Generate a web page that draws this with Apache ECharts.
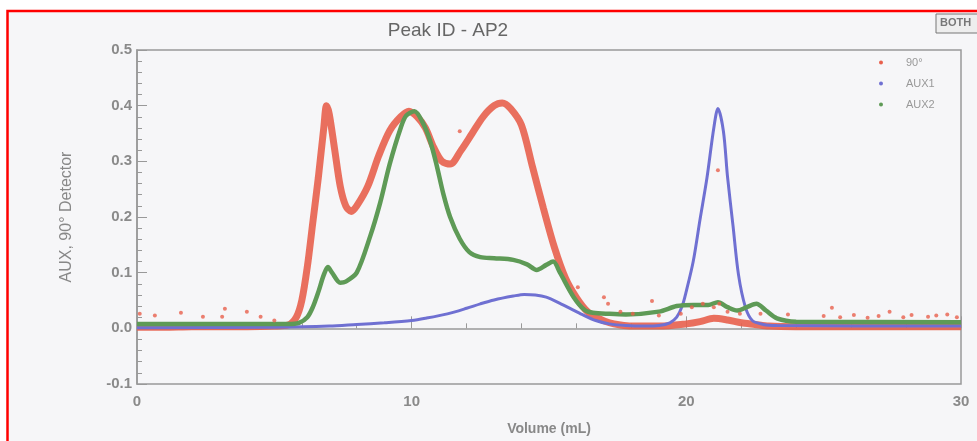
<!DOCTYPE html>
<html><head><meta charset="utf-8">
<script src="https://cdn.jsdelivr.net/npm/echarts@6/dist/echarts.min.js"></script>
<style>html,body{margin:0;padding:0;background:#fff}#c{width:977px;height:441px}</style>
</head><body><div id="c"></div>
<script>
// Volume (mL) and detector values
const redX = [0,1,2,3,4,5,5.5,5.8,6.0,6.2,6.4,6.6,6.8,6.9,7.0,7.2,7.4,7.6,7.8,8.0,8.4,8.8,9.2,9.6,9.9,10.2,10.5,10.8,11.1,11.4,11.8,12.2,12.6,13.0,13.3,13.6,14.0,14.4,14.8,15.2,15.6,16.0,16.4,16.8,17.2,17.6,18,19,20,20.5,21,21.5,22,22.5,23,24,25,26,27,28,29,30];
const redY = [0.002,0.002,0.003,0.003,0.003,0.004,0.006,0.02,0.05,0.11,0.19,0.27,0.36,0.40,0.385,0.32,0.255,0.22,0.21,0.22,0.255,0.31,0.355,0.38,0.39,0.38,0.36,0.325,0.30,0.295,0.32,0.35,0.38,0.40,0.405,0.395,0.365,0.29,0.215,0.145,0.09,0.055,0.03,0.018,0.01,0.006,0.004,0.004,0.008,0.012,0.018,0.015,0.01,0.007,0.004,0.003,0.003,0.003,0.003,0.003,0.003,0.003];
const redOutX = [0.1,0.65,1.6,2.4,3.2,3.1,4.0,4.5,5.0,16.05,17.0,17.15,17.6,18.05,18.75,19.0,19.8,20.2,20.6,21.0,21.2,21.5,21.95,22.7,21.15,23.7,25.0,25.3,25.6,26.1,26.6,27.0,27.4,27.9,28.2,28.8,29.1,29.5,29.85,11.75];
const redOutY = [0.026,0.023,0.028,0.021,0.035,0.021,0.03,0.021,0.014,0.074,0.056,0.044,0.03,0.026,0.049,0.023,0.026,0.038,0.044,0.038,0.044,0.03,0.026,0.026,0.284,0.025,0.022,0.037,0.02,0.024,0.019,0.022,0.03,0.02,0.024,0.021,0.023,0.025,0.02,0.354];

const blueX = [0,5,7,8,9,10,10.5,11.3,12,12.5,13,13.7,14.1,14.5,14.9,15.4,15.8,16.2,16.7,17.2,17.8,18.5,19.0,19.4,19.65,19.85,20.0,20.25,20.5,20.75,21.0,21.15,21.35,21.5,21.7,21.9,22.15,22.4,22.8,23.3,30];
const blueY = [0.001,0.002,0.004,0.007,0.01,0.014,0.018,0.026,0.036,0.044,0.051,0.058,0.061,0.06,0.056,0.045,0.035,0.025,0.014,0.008,0.005,0.004,0.005,0.01,0.02,0.04,0.067,0.12,0.196,0.27,0.36,0.395,0.354,0.272,0.184,0.096,0.038,0.014,0.007,0.005,0.004];

const greenX = [0,5,5.5,5.9,6.2,6.4,6.6,6.8,6.95,7.1,7.4,7.6,8.0,8.5,8.85,9.2,9.6,9.8,10.1,10.4,10.67,10.9,11.15,11.4,11.75,12.1,12.5,13.0,13.7,14.2,14.55,14.9,15.15,15.4,15.9,16.3,16.6,17.2,17.8,19.0,19.65,20.25,20.8,21.15,21.5,21.85,22.2,22.55,22.9,23.3,24,30];
const greenY = [0.008,0.008,0.008,0.01,0.02,0.038,0.065,0.096,0.11,0.1,0.082,0.084,0.10,0.167,0.225,0.295,0.36,0.382,0.39,0.37,0.337,0.295,0.242,0.20,0.161,0.137,0.128,0.126,0.123,0.115,0.105,0.114,0.12,0.10,0.056,0.033,0.028,0.026,0.025,0.03,0.04,0.042,0.042,0.047,0.038,0.032,0.038,0.044,0.032,0.018,0.012,0.011];

const xTicks = [0,10,20,30];
const yTicks = [-0.1,0,0.1,0.2,0.3,0.4,0.5];
const seriesNames = ['90°','AUX1','AUX2'];

const zip = (a,b) => a.map((v,i)=>[v,b[i]]);
const RED='#e8604c', BLUE='#6f70d2', GREEN='#5e9a56';
const axisGray='#8a8a8a';
const chart = echarts.init(document.getElementById('c'));
chart.setOption({
  backgroundColor:'#f6f6f8',
  animation:false,
  title:{text:'Peak ID - AP2',left:443,top:16,textAlign:'center',
    textStyle:{fontFamily:'Liberation Sans',fontSize:19,fontWeight:'normal',color:'#666'}},
  legend:{orient:'vertical',left:874,top:52,itemWidth:4,itemHeight:4,itemGap:10,icon:'circle',
    data:seriesNames,
    textStyle:{fontFamily:'Liberation Sans',fontSize:11,color:'#999',padding:[0,0,0,18]}},
  grid:{left:137,top:50,right:16,bottom:49,show:true,borderColor:'#999',borderWidth:1.5,backgroundColor:'transparent'},
  xAxis:{type:'value',min:xTicks[0],max:xTicks[xTicks.length-1],interval:10,
    name:'Volume (mL)',nameLocation:'middle',nameGap:38,
    nameTextStyle:{fontFamily:'Liberation Sans',fontSize:14,fontWeight:'bold',color:'#888'},
    axisLine:{lineStyle:{color:'#999',width:1.5}},
    axisTick:{inside:true,length:12,lineStyle:{color:'#999'}},
    minorTick:{show:true,splitNumber:5,length:5,lineStyle:{color:'#999'}},
    splitLine:{show:false},
    axisLabel:{margin:10,fontFamily:'Liberation Sans',fontSize:15,fontWeight:'bold',color:axisGray}},
  yAxis:{type:'value',min:yTicks[0],max:yTicks[yTicks.length-1],interval:0.1,
    name:'AUX, 90° Detector',nameLocation:'middle',nameGap:62,
    nameTextStyle:{fontFamily:'Liberation Sans',fontSize:16,color:'#888'},
    axisLine:{show:true,lineStyle:{color:'#999',width:1.5}},
    axisTick:{show:true,inside:true,length:10,lineStyle:{color:'#999'}},
    minorTick:{show:true,splitNumber:5,length:5,lineStyle:{color:'#999'}},
    splitLine:{show:false},
    axisLabel:{margin:5,fontFamily:'Liberation Sans',fontSize:15,fontWeight:'bold',color:axisGray,
      formatter:v=>v.toFixed(1)}},
  series:[
    {name:'90°',type:'line',data:zip(redX,redY),showSymbol:false,smooth:0.3,color:RED,
      lineStyle:{width:7,color:RED,opacity:0.9},z:2},
    {name:'AUX1',type:'line',data:zip(blueX,blueY),showSymbol:false,smooth:0.3,color:BLUE,
      lineStyle:{width:3,color:BLUE},z:3},
    {name:'AUX2',type:'line',data:zip(greenX,greenY),showSymbol:false,smooth:0.3,color:GREEN,
      lineStyle:{width:4.5,color:GREEN},z:4},
    {name:'90°',type:'scatter',data:zip(redOutX,redOutY),symbolSize:4,color:RED,itemStyle:{color:RED},z:5}
  ],
  graphic:[
    {type:'rect',shape:{x:0,y:0,width:977,height:10},style:{fill:'#fff'},z:100},
    {type:'rect',shape:{x:0,y:0,width:7,height:441},style:{fill:'#fff'},z:100},
    {type:'polyline',shape:{points:[[7.5,441],[7.5,11],[977,11]]},style:{stroke:'#ff0000',lineWidth:2.5,fill:null},z:101},
    {type:'rect',shape:{x:936,y:14,width:50,height:19},style:{fill:'#eeeeee',stroke:'#777',lineWidth:1},z:100},
    {type:'text',x:940,y:17,style:{text:'BOTH',fontFamily:'Liberation Sans',fontSize:11,fontWeight:'bold',fill:'#777'},z:101}
  ]
});
</script></body></html>
